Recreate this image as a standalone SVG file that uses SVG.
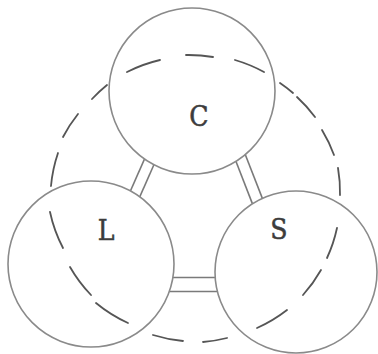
<svg xmlns="http://www.w3.org/2000/svg" width="378" height="354" viewBox="0 0 378 354">
<style>
.node{fill:#fff;stroke:#8a8a8a;stroke-width:1.6}
.lbl{font-family:"DejaVu Serif Condensed","DejaVu Serif",serif;font-stretch:condensed;font-size:28px;fill:#3c3c3c;stroke:#3c3c3c;stroke-width:0.5;text-anchor:middle}
.link{stroke:#7a7a7a;stroke-width:1.6;fill:none}
.dash{stroke:#555;stroke-width:1.8;fill:none;stroke-linecap:round}
</style>
<rect width="378" height="354" fill="#fff"/>
<g id="connectors">
<line class="link" x1="147.1" y1="153.1" x2="124.9" y2="203.5"/>
<line class="link" x1="157.1" y1="157.5" x2="134.9" y2="207.9"/>
<line class="link" x1="233" y1="153.7" x2="254.7" y2="209.6"/>
<line class="link" x1="243.3" y1="149.5" x2="265.1" y2="205.4"/>
<line class="link" x1="160" y1="277.5" x2="225" y2="277.5"/>
<line class="link" x1="160" y1="291.5" x2="225" y2="291.5"/>
</g>
<g id="node-C">
<circle class="node" cx="192" cy="91" r="83"/>
<text class="lbl" x="199" y="126">C</text>
</g>
<g id="node-L">
<circle class="node" cx="91" cy="264" r="83"/>
<text class="lbl" x="106" y="240">L</text>
</g>
<g id="node-S">
<circle class="node" cx="296" cy="272" r="81"/>
<text class="lbl" x="279" y="239">S</text>
</g>
<g id="cycle">
<path class="dash" d="M280,83 A145,143 0 0 1 293,93"/>
<path class="dash" d="M297,97 A145,143 0 0 1 315,117"/>
<path class="dash" d="M322,130 A145,143 0 0 1 334,155"/>
<path class="dash" d="M338,168 A145,143 0 0 1 340,195"/>
<path class="dash" d="M337,228 A145,143 0 0 1 327,258"/>
<path class="dash" d="M321,270 A145,143 0 0 1 303,295"/>
<path class="dash" d="M287,310 A145,143 0 0 1 257,328"/>
<path class="dash" d="M227,338 A145,143 0 0 1 203,342"/>
<path class="dash" d="M183,341 A145,143 0 0 1 153,335"/>
<path class="dash" d="M128,323 A145,143 0 0 1 96,303"/>
<path class="dash" d="M91,295 A145,143 0 0 1 70,267"/>
<path class="dash" d="M63,248 A145,143 0 0 1 50,212"/>
<path class="dash" d="M51,186 A145,143 0 0 1 58,153"/>
<path class="dash" d="M63,137 A145,143 0 0 1 78,114"/>
<path class="dash" d="M92,99 A145,143 0 0 1 107,85"/>
<path class="dash" d="M127,72 A145,143 0 0 1 160,60"/>
<path class="dash" d="M186,55 A145,143 0 0 1 213,57"/>
<path class="dash" d="M235,60 A145,143 0 0 1 264,72"/>
</g>
</svg>
